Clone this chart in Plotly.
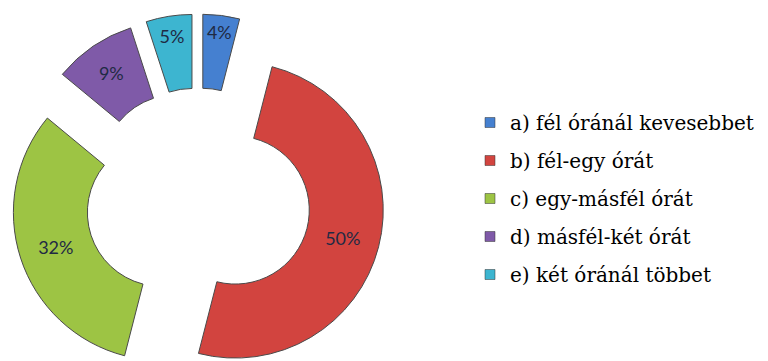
import plotly.graph_objects as go

# adatok
labels = ["a) fél óránál kevesebbet", "b) fél-egy órát", "c) egy-másfél órát",
          "d) másfél-két órát", "e) két óránál többet"]
values = [4, 50, 32, 9, 5]
colors = ["#4580D0", "#D2443F", "#9DC444", "#7F5AA8", "#3DB5D0"]

# the page body has an 8px margin, so everything is shifted by -8
W, H = 760, 379
cx, side = 190, 373  # pie box (px)
top = 6

fig = go.Figure(go.Pie(
    labels=labels,
    values=values,
    sort=False,
    direction="clockwise",
    rotation=0,
    hole=0.5,
    pull=[0.26] * 5,
    marker=dict(colors=colors, line=dict(color="#4a4a4a", width=1)),
    textinfo="percent",
    textposition="inside",
    insidetextorientation="horizontal",
    textfont=dict(family="Lato", size=18, color="#1F2A44"),
    domain=dict(x=[(cx - side / 2) / W, (cx + side / 2) / W], y=[0, 1]),
    showlegend=False,
))

# legend entries (one group each so the rows can be spaced out)
for lab, col in zip(labels, colors):
    fig.add_trace(go.Scatter(x=[None], y=[None], mode="markers", name=lab, legendgroup=lab,
                             marker=dict(symbol="square", size=10, color=col,
                                         line=dict(color="#333", width=0.5))))

fig.update_xaxes(visible=False)
fig.update_yaxes(visible=False)

fig.update_layout(
    width=W, height=H,
    margin=dict(l=0, r=0, t=top, b=0, autoexpand=False),
    paper_bgcolor="white",
    plot_bgcolor="white",
    legend=dict(x=462 / W, y=1 - (95 - top) / (H - top), xanchor="left", yanchor="top",
                tracegroupgap=9,
                font=dict(family="DejaVu Serif", size=20, color="black")),
)

fig.write_html("out.html")
